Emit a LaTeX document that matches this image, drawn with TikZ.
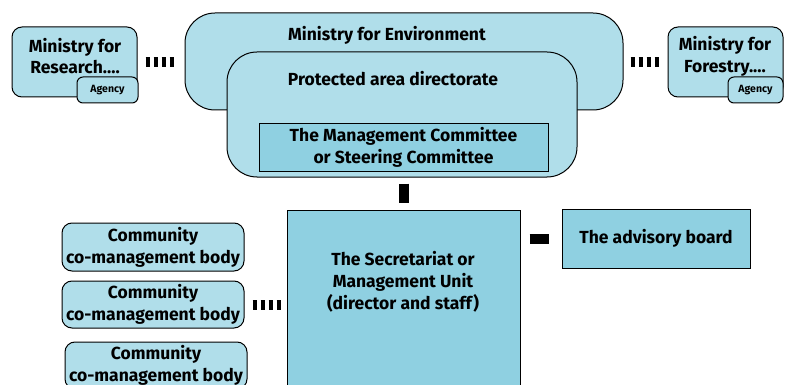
\documentclass[tikz,border=0pt]{standalone}
\usepackage{fontspec}
\setmainfont{Fira Sans}
\definecolor{paleblue}{RGB}{176,222,234}
\definecolor{deepblue}{RGB}{143,208,225}
\tikzset{
  orgbox/.style={draw, line width=1pt, fill=paleblue, rounded corners=10pt, inner sep=0pt},
  sqbox/.style={draw, line width=1pt, fill=deepblue, inner sep=0pt},
  tagbox/.style={orgbox, rounded corners=6pt, font=\fontsize{10.5}{12}\selectfont\bfseries},
  txt/.style={font=\fontsize{17.5}{21.8}\selectfont\bfseries, align=center},
  dashlink/.style={line width=10pt, dash pattern=on 4pt off 4pt},
  barlink/.style={line width=10pt}
}
\begin{document}
\begin{tikzpicture}[x=1pt,y=-1pt]
\useasboundingbox (0,0) rectangle (787,385);
\clip (0,0) rectangle (787,385);
% top row
\node[orgbox, minimum width=438pt, minimum height=97pt, rounded corners=30pt] (env) at (404,61.5) {};
\node[txt] (envtxt) at (387,35) {Ministry for Environment};
\node[orgbox, minimum width=350pt, minimum height=125pt, rounded corners=30pt] (dir) at (402,114.5) {};
\node[txt] (dirtxt) at (393,79) {Protected area directorate};
\node[sqbox, minimum width=289pt, minimum height=47pt, txt] (mc) at (403.5,147.5) {The Management Committee\\or Steering Committee};
\node[orgbox, minimum width=125pt, minimum height=70pt] (research) at (74.5,62) {};
\node[txt] (restxt) at (75,56) {Ministry for\\Research....};
\node[tagbox, minimum width=61pt, minimum height=26pt] (agencyA) at (107.5,90) {Agency};
\node[orgbox, minimum width=115pt, minimum height=70pt] (forestry) at (725.5,62) {};
\node[txt] (fortxt) at (725,56) {Ministry for\\Forestry....};
\node[tagbox, minimum width=55pt, minimum height=26pt] (agencyB) at (755.5,90) {Agency};
% lower part
\node[sqbox, minimum width=233pt, minimum height=190pt] (sec) at (403.5,305) {};
\node[txt] (sectxt) at (403,282) {The Secretariat or\\Management Unit\\(director and staff)};
\node[sqbox, minimum width=188pt, minimum height=59pt, txt] (adv) at (656,238.5) {The advisory board};
\node[orgbox, minimum width=182pt, minimum height=48pt, txt] (commA) at (153,247) {Community\\co-management body};
\node[orgbox, minimum width=182pt, minimum height=47pt, txt] (commB) at (153,304.5) {Community\\co-management body};
\node[orgbox, minimum width=182pt, minimum height=47pt, txt] (commC) at (156,365.5) {Community\\co-management body};
% links
\draw[dashlink, shorten <=8pt, shorten >=10pt] (research.east) -- (research.east -| env.west);
\draw[dashlink, shorten <=7pt, shorten >=8pt] (env.east |- forestry.west) -- (forestry.west);
\draw[barlink, shorten <=12pt, shorten >=7pt] (mc.south) -- (sec.north);
\draw[barlink, shorten <=9pt, shorten >=13pt] (sec.east |- adv.west) -- (adv.west);
\draw[dashlink, shorten <=8pt, shorten >=5pt] (commB.east) -- (commB.east -| sec.west);
\end{tikzpicture}
\end{document}
